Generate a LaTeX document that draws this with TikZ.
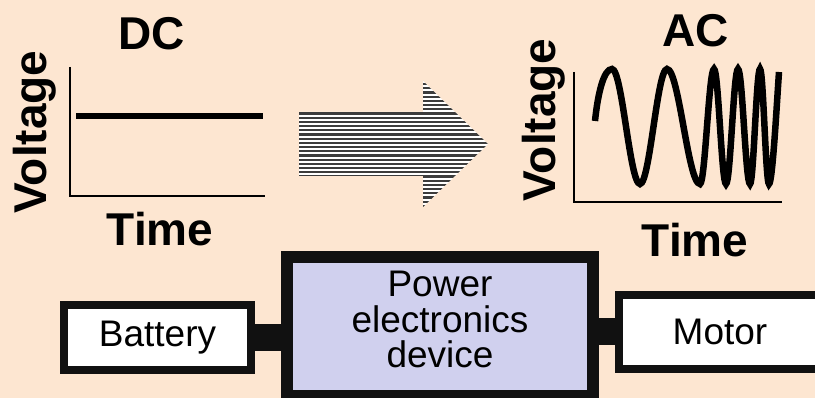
\documentclass[tikz,border=0pt]{standalone}
\usepackage{fontspec}
\setmainfont{Liberation Sans}
\definecolor{peach}{RGB}{253,230,209}
\definecolor{lavender}{RGB}{208,208,238}
\definecolor{ink}{RGB}{17,17,17}
\definecolor{stripe}{RGB}{60,60,60}

\begin{document}
\begin{tikzpicture}[
        x=1pt, y=-1pt,
        title/.style={font=\fontsize{46}{46}\selectfont\bfseries},
        axis/.style={line width=2.2pt},
        signal/.style={line width=6.5pt},
        block/.style={draw=ink, fill=white, line width=8pt, inner sep=0pt,
                font=\fontsize{37}{35.5}\selectfont, align=center},
        link/.style={ink, line width=27pt}
    ]
    \clip (0,0) rectangle (815,398);
    \useasboundingbox (0,0) rectangle (815,398);
    \fill[peach] (0,0) rectangle (815,398);

    % DC plot
    \node[title] (dc) at (152,34) {DC};
    \node[title, rotate=90] (vdc) at (35,132) {Voltage};
    \node[title] (tdc) at (160,229) {Time};
    \draw[axis] (70,67) -- (70,196) -- (265,196);
    \draw[signal] (76,116) -- (263,116);

    % striped arrow
    \begin{scope}
        \clip (299,112) -- (423,112) -- (423,81) -- (488,144) -- (423,207)
            -- (423,176) -- (299,176) -- cycle;
        \fill[white] (295,78) rectangle (492,210);
        \foreach \y in {0,...,30}
            \draw[stripe, line width=2.2pt] (295,{80+4.2*\y}) -- (492,{80+4.2*\y});
    \end{scope}

    % AC plot
    \node[title] (ac) at (696,31) {AC};
    \node[title, rotate=90] (vac) at (544,120) {Voltage};
    \node[title] (tac) at (695,240) {Time};
    \draw[axis] (574,72) -- (574,202) -- (782,202);
    \draw[signal] (595,121) .. controls (598,92) and (604,69) .. (612,69)
        .. controls (622.2,69) and (629.8,184) .. (640,184)
        .. controls (649.8,184) and (657.2,69) .. (667,69)
        .. controls (679,69) and (688,184) .. (700,184)
        .. controls (705.1,184) and (708.9,69) .. (714,69)
        .. controls (718.4,69) and (721.6,184) .. (726,184)
        .. controls (730.4,184) and (733.6,69) .. (738,69)
        .. controls (742.4,69) and (745.6,184) .. (750,184)
        .. controls (753.6,184) and (756.4,69) .. (760,69)
        .. controls (763.3,69) and (765.7,184) .. (769,184)
        .. controls (772.5,184) and (777,100) .. (779,72);

    % block chain
    \node[block, minimum width=187pt, minimum height=65pt] (battery) at (157.5,337.5) {Battery};
    \node[block, fill=lavender, line width=12pt, minimum width=306pt, minimum height=139pt,
        text depth=14pt] (pe) at (440,326.5) {Power\\electronics\\device};
    \node[block, minimum width=202pt, minimum height=74pt] (motor) at (720,332) {Motor};
    \draw[link] (battery.east) -- (battery.east -| pe.west);
    \draw[link] (motor.west -| pe.east) -- (motor.west);
\end{tikzpicture}
\end{document}
